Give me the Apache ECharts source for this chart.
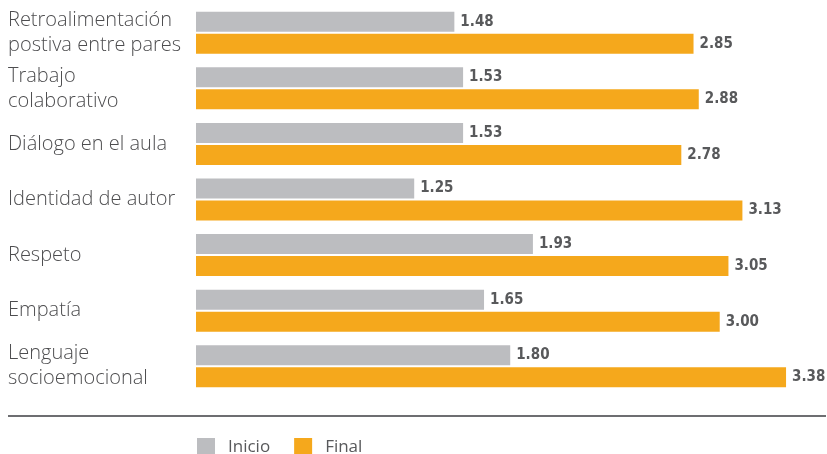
<!DOCTYPE html>
<html>
<head>
<meta charset="utf-8">
<script src="https://cdn.jsdelivr.net/npm/echarts@6/dist/echarts.min.js"></script>
<style>
  html, body { margin: 0; padding: 0; background: #fff; }
  #chart { width: 827px; height: 454px; }
</style>
</head>
<body>
<div id="chart"></div>
<script>
// categorías (de arriba hacia abajo)
const categories = [
  "Retroalimentación\npostiva entre pares",
  "Trabajo\ncolaborativo",
  "Diálogo en el aula",
  "Identidad de autor",
  "Respeto",
  "Empatía",
  "Lenguaje\nsocioemocional"
];
const inicio = [1.48, 1.53, 1.53, 1.25, 1.93, 1.65, 1.80];
const final = [2.85, 2.88, 2.78, 3.13, 3.05, 3.00, 3.38];

const chart = echarts.init(document.getElementById("chart"));

const valueLabel = {
  show: true,
  position: "right",
  distance: 6,
  fontFamily: "'Liberation Sans Narrow', 'DejaVu Sans Condensed', sans-serif",
  fontWeight: "bold",
  fontSize: 15,
  color: "#58595b",
  formatter: p => p.value.toFixed(2)
};

chart.setOption({
  animation: false,
  grid: { left: 196, right: 20, top: 5, bottom: 60 },
  legend: {
    left: 192,
    top: 433,
    itemWidth: 18,
    itemHeight: 19,
    itemGap: 24,
    icon: "rect",
    textStyle: {
      fontFamily: "Open Sans",
      fontSize: 17,
      color: "#58595b",
      padding: [0, 0, 0, 8]
    },
    data: ["Inicio", "Final"]
  },
  xAxis: {
    type: "value",
    min: 0,
    max: 3.5,
    show: false
  },
  yAxis: {
    type: "category",
    inverse: true,
    data: categories,
    axisLine: { show: false },
    axisTick: { show: false },
    axisLabel: {
      align: "left",
      margin: 188,
      fontFamily: "Open Sans",
      fontWeight: 300,
      fontSize: 20,
      lineHeight: 25,
      color: "#4d4d4f"
    }
  },
  graphic: [
    {
      type: "line",
      shape: { x1: 8, y1: 416, x2: 826, y2: 416 },
      style: { stroke: "#6d6e71", lineWidth: 2 }
    }
  ],
  series: [
    {
      name: "Inicio",
      type: "bar",
      data: inicio,
      barWidth: 20,
      barGap: "10%",
      itemStyle: { color: "#bcbdc0" },
      label: valueLabel
    },
    {
      name: "Final",
      type: "bar",
      data: final,
      barWidth: 20,
      barGap: "10%",
      itemStyle: { color: "#f5a81c" },
      label: valueLabel
    }
  ]
});
</script>
</body>
</html>
